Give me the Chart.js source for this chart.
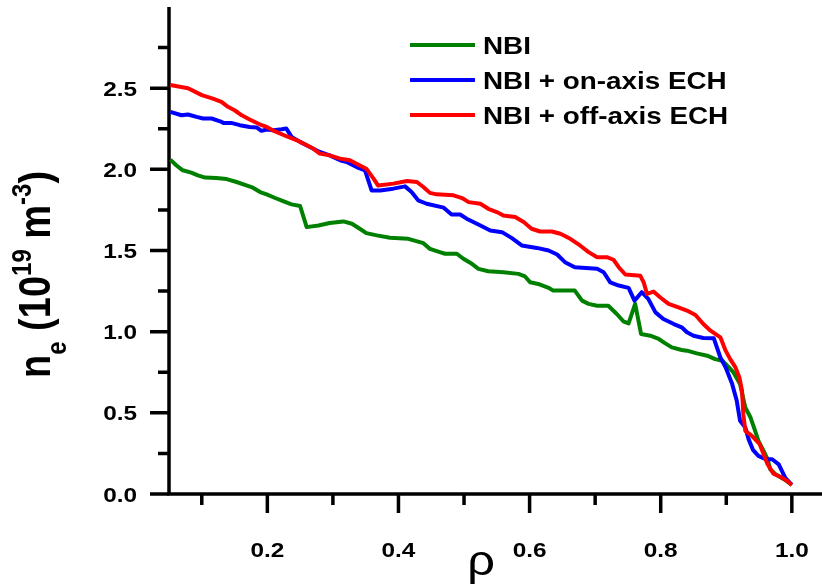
<!DOCTYPE html>
<html>
<head>
<meta charset="utf-8">
<script src="https://cdn.jsdelivr.net/npm/chart.js@4.4.1/dist/chart.umd.min.js"></script>
<style>
  html, body { margin: 0; padding: 0; background: #fff; }
  canvas { display: block; }
</style>
</head>
<body>
<canvas id="profileChart" width="822" height="587"></canvas>
<script>
// density profiles n_e(rho)
const rhoNbi = [0.052, 0.061, 0.071, 0.084, 0.094, 0.105, 0.122, 0.138, 0.153, 0.168, 0.178, 0.189, 0.199, 0.211, 0.224, 0.237, 0.250, 0.260, 0.278, 0.295, 0.316, 0.329, 0.341, 0.351, 0.367, 0.387, 0.415, 0.438, 0.448, 0.463, 0.471, 0.489, 0.499, 0.512, 0.522, 0.537, 0.560, 0.583, 0.593, 0.601, 0.613, 0.629, 0.636, 0.669, 0.680, 0.690, 0.703, 0.720, 0.733, 0.743, 0.751, 0.761, 0.770, 0.784, 0.797, 0.807, 0.817, 0.832, 0.840, 0.855, 0.871, 0.883, 0.894, 0.904, 0.911, 0.921, 0.929, 0.937, 0.944, 0.949, 0.957, 0.963, 0.967, 0.975, 0.988, 1.000];
const neNbi = [2.06, 2.025, 1.994, 1.98, 1.963, 1.949, 1.946, 1.94, 1.922, 1.901, 1.887, 1.86, 1.846, 1.825, 1.804, 1.784, 1.774, 1.644, 1.654, 1.669, 1.679, 1.665, 1.634, 1.607, 1.593, 1.578, 1.572, 1.545, 1.51, 1.49, 1.48, 1.48, 1.449, 1.418, 1.387, 1.372, 1.366, 1.356, 1.34, 1.304, 1.294, 1.27, 1.253, 1.253, 1.191, 1.171, 1.16, 1.16, 1.109, 1.064, 1.051, 1.171, 0.986, 0.975, 0.955, 0.928, 0.903, 0.887, 0.883, 0.866, 0.852, 0.831, 0.821, 0.78, 0.749, 0.677, 0.533, 0.471, 0.389, 0.327, 0.265, 0.214, 0.152, 0.122, 0.091, 0.056];

const rhoOnAxis = [0.052, 0.069, 0.079, 0.092, 0.102, 0.115, 0.128, 0.133, 0.145, 0.158, 0.173, 0.184, 0.191, 0.199, 0.209, 0.222, 0.229, 0.237, 0.250, 0.265, 0.280, 0.295, 0.311, 0.321, 0.336, 0.349, 0.359, 0.372, 0.392, 0.410, 0.420, 0.430, 0.443, 0.469, 0.481, 0.494, 0.504, 0.525, 0.540, 0.558, 0.573, 0.588, 0.611, 0.629, 0.642, 0.654, 0.669, 0.703, 0.713, 0.723, 0.736, 0.751, 0.760, 0.771, 0.781, 0.792, 0.804, 0.820, 0.832, 0.840, 0.850, 0.865, 0.881, 0.891, 0.899, 0.909, 0.916, 0.921, 0.929, 0.934, 0.941, 0.949, 0.960, 0.970, 0.980, 0.990, 1.000];
const neOnAxis = [2.354, 2.333, 2.338, 2.323, 2.313, 2.313, 2.296, 2.286, 2.286, 2.272, 2.261, 2.257, 2.237, 2.245, 2.241, 2.247, 2.251, 2.20, 2.169, 2.138, 2.107, 2.086, 2.056, 2.045, 2.014, 1.994, 1.87, 1.87, 1.881, 1.895, 1.86, 1.809, 1.788, 1.764, 1.722, 1.722, 1.696, 1.654, 1.623, 1.613, 1.576, 1.531, 1.516, 1.50, 1.475, 1.428, 1.397, 1.387, 1.366, 1.304, 1.284, 1.27, 1.191, 1.243, 1.202, 1.119, 1.078, 1.047, 1.027, 0.996, 0.975, 0.961, 0.959, 0.841, 0.78, 0.677, 0.574, 0.451, 0.41, 0.338, 0.27, 0.235, 0.214, 0.214, 0.183, 0.10, 0.056];

const rhoOffAxis = [0.052, 0.079, 0.100, 0.117, 0.130, 0.140, 0.150, 0.161, 0.173, 0.189, 0.199, 0.211, 0.229, 0.245, 0.260, 0.270, 0.280, 0.295, 0.311, 0.326, 0.336, 0.351, 0.362, 0.369, 0.392, 0.413, 0.428, 0.438, 0.448, 0.458, 0.484, 0.497, 0.507, 0.525, 0.537, 0.550, 0.560, 0.578, 0.591, 0.603, 0.616, 0.634, 0.647, 0.662, 0.677, 0.690, 0.703, 0.718, 0.728, 0.736, 0.746, 0.769, 0.774, 0.779, 0.789, 0.799, 0.812, 0.827, 0.840, 0.853, 0.865, 0.876, 0.891, 0.899, 0.906, 0.914, 0.920, 0.924, 0.926, 0.929, 0.939, 0.951, 0.957, 0.963, 0.972, 0.983, 0.993, 1.000];
const neOffAxis = [2.52, 2.50, 2.457, 2.436, 2.416, 2.385, 2.364, 2.333, 2.307, 2.276, 2.261, 2.235, 2.204, 2.179, 2.148, 2.128, 2.097, 2.086, 2.066, 2.056, 2.035, 2.004, 1.943, 1.90, 1.912, 1.928, 1.922, 1.891, 1.855, 1.846, 1.84, 1.823, 1.798, 1.788, 1.757, 1.737, 1.716, 1.706, 1.675, 1.634, 1.617, 1.617, 1.603, 1.572, 1.531, 1.49, 1.459, 1.459, 1.443, 1.397, 1.352, 1.344, 1.304, 1.233, 1.247, 1.212, 1.171, 1.15, 1.13, 1.103, 1.047, 1.006, 0.965, 0.883, 0.831, 0.78, 0.718, 0.636, 0.492, 0.389, 0.358, 0.307, 0.245, 0.183, 0.125, 0.105, 0.08, 0.056];

const seriesLabels = ['NBI', 'NBI + on-axis ECH', 'NBI + off-axis ECH'];
const seriesColors = ['#008000', '#0000ff', '#ff0000'];

const xMajorTicks = [0.2, 0.4, 0.6, 0.8, 1.0];
const xMinorTicks = [0.1, 0.3, 0.5, 0.7, 0.9];
const yMajorTicks = [0.0, 0.5, 1.0, 1.5, 2.0, 2.5];
const yMinorTicks = [0.25, 0.75, 1.25, 1.75, 2.25, 2.75];

const FONT = '"Liberation Sans", Arial, sans-serif';
const SX = 1.16; // text is drawn a bit wider than normal

function toPoints(xs, ys) {
    return xs.map((x, i) => ({x: x, y: ys[i]}));
}

function wideText(ctx, txt, x, y, align) {
    ctx.save();
    ctx.translate(x, y);
    ctx.scale(SX, 1);
    ctx.textAlign = align;
    ctx.fillText(txt, 0, 0);
    ctx.restore();
}

// axes, ticks, labels, titles and legend are drawn by hand
const axesPlugin = {
    id: 'axesPlugin',
    beforeDatasetsDraw(chart) {
        const ctx = chart.ctx;
        const area = chart.chartArea;
        ctx.save();
        ctx.strokeStyle = '#000';
        ctx.lineWidth = 3.5;
        ctx.lineCap = 'butt';
        ctx.beginPath();
        ctx.moveTo(area.left, area.top);
        ctx.lineTo(area.left, area.bottom + 1.75);
        ctx.moveTo(area.left - 1.75, area.bottom);
        ctx.lineTo(area.right, area.bottom);
        ctx.stroke();
        ctx.restore();
    },
    afterDraw(chart) {
        const ctx = chart.ctx;
        const area = chart.chartArea;
        const xs = chart.scales.x;
        const ys = chart.scales.y;

        ctx.save();
        ctx.strokeStyle = '#000';
        ctx.fillStyle = '#000';
        ctx.lineWidth = 3.5;
        ctx.beginPath();
        xMajorTicks.forEach(v => {
            const px = xs.getPixelForValue(v);
            ctx.moveTo(px, area.bottom);
            ctx.lineTo(px, area.bottom + 19);
        });
        xMinorTicks.forEach(v => {
            const px = xs.getPixelForValue(v);
            ctx.moveTo(px, area.bottom);
            ctx.lineTo(px, area.bottom + 11);
        });
        yMajorTicks.forEach(v => {
            const py = ys.getPixelForValue(v);
            ctx.moveTo(area.left, py);
            ctx.lineTo(area.left - 19, py);
        });
        yMinorTicks.forEach(v => {
            const py = ys.getPixelForValue(v);
            ctx.moveTo(area.left, py);
            ctx.lineTo(area.left - 11, py);
        });
        ctx.stroke();

        // tick labels
        ctx.font = 'bold 21px ' + FONT;
        ctx.textBaseline = 'alphabetic';
        xMajorTicks.forEach(v => {
            wideText(ctx, v.toFixed(1), xs.getPixelForValue(v), area.bottom + 63, 'center');
        });
        yMajorTicks.forEach(v => {
            wideText(ctx, v.toFixed(1), area.left - 32, ys.getPixelForValue(v) + 7.5, 'right');
        });

        // x title
        ctx.font = '42px ' + FONT;
        wideText(ctx, '\u03c1', 481, 575, 'center');

        // y title, rotated, with sub- and superscripts
        const big = 'bold 38px ' + FONT;
        const small = 'bold 24px ' + FONT;
        const parts = [
            ['n', big, 0],
            ['e', small, 14],
            [' (10', big, 0],
            ['19', small, -16],
            [' m', big, 0],
            ['-3', small, -16],
            [')', big, 0]
        ];
        ctx.save();
        ctx.translate(50, 378);
        ctx.scale(SX, 1);
        ctx.rotate(-Math.PI / 2);
        ctx.textAlign = 'left';
        let cx = 0;
        parts.forEach(p => {
            ctx.font = p[1];
            ctx.fillText(p[0], cx, p[2]);
            cx += ctx.measureText(p[0]).width;
        });
        ctx.restore();

        // legend
        const rows = [45, 80, 115];
        chart.data.datasets.forEach((ds, i) => {
            ctx.strokeStyle = ds.borderColor;
            ctx.lineWidth = 4;
            ctx.beginPath();
            ctx.moveTo(410, rows[i]);
            ctx.lineTo(475, rows[i]);
            ctx.stroke();
            ctx.font = 'bold 24px ' + FONT;
            ctx.fillStyle = '#000';
            wideText(ctx, ds.label, 483, rows[i] + 8.5, 'left');
        });
        ctx.restore();
    }
};

const ctx = document.getElementById('profileChart').getContext('2d');
new Chart(ctx, {
    type: 'line',
    data: {
        datasets: [
            {label: seriesLabels[0], data: toPoints(rhoNbi, neNbi), borderColor: seriesColors[0], order: 2},
            {label: seriesLabels[1], data: toPoints(rhoOnAxis, neOnAxis), borderColor: seriesColors[1], order: 1},
            {label: seriesLabels[2], data: toPoints(rhoOffAxis, neOffAxis), borderColor: seriesColors[2], order: 0}
        ]
    },
    options: {
        responsive: false,
        devicePixelRatio: 1,
        animation: false,
        layout: {padding: {left: 169, right: 0, top: 7, bottom: 93}},
        elements: {
            line: {borderWidth: 4, tension: 0, borderJoinStyle: 'round', fill: false},
            point: {radius: 0}
        },
        scales: {
            x: {type: 'linear', min: 0.05, max: 1.046, display: false},
            y: {type: 'linear', min: 0, max: 3.0, display: false}
        },
        plugins: {
            legend: {display: false},
            tooltip: {enabled: false}
        }
    },
    plugins: [axesPlugin]
});
</script>
</body>
</html>
